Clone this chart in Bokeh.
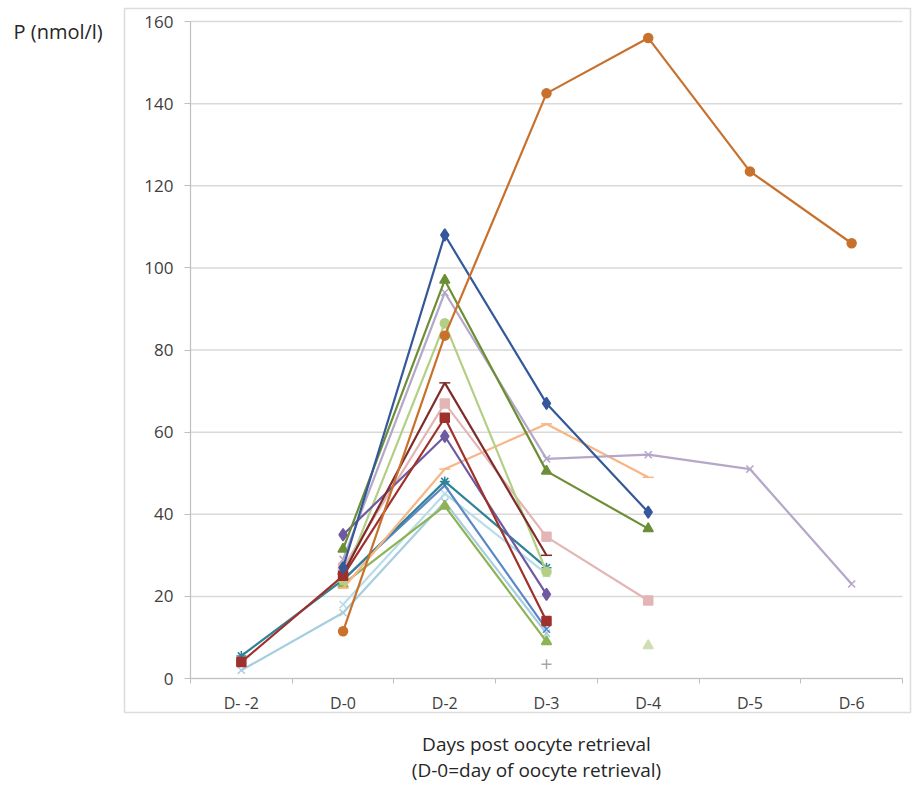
from bokeh.plotting import figure
from bokeh.models import Range1d, FixedTicker, BoxAnnotation, Label, LinearAxis
from bokeh.embed import file_html
from bokeh.resources import INLINE

nan = float("nan")

days = ["D- -2", "D-0", "D-2", "D-3", "D-4", "D-5", "D-6"]
y_ticks = [0, 20, 40, 60, 80, 100, 120, 140, 160]

# values per day (D- -2, D-0, D-2, D-3, D-4, D-5, D-6)
p_dark_blue   = [nan, 27.0, 108.0, 67.0, 40.5, nan, nan]
p_dark_red    = [4.0, 25.0, 63.5, 14.0, nan, nan, nan]
p_olive       = [nan, 31.5, 97.0, 50.5, 36.5, nan, nan]
p_purple      = [nan, 35.0, 59.0, 20.5, nan, nan, nan]
p_teal        = [5.5, 24.0, 48.0, 27.0, nan, nan, nan]
p_orange      = [nan, 11.5, 83.5, 142.5, 156.0, 123.5, 106.0]
p_lavender    = [nan, 29.0, 94.0, 53.5, 54.5, 51.0, 23.0]
p_light_green = [nan, 24.0, 86.5, 26.0, nan, nan, nan]
p_maroon      = [nan, 25.5, 72.0, 30.0, nan, nan, nan]
p_pink        = [nan, 27.0, 67.0, 34.5, 19.0, nan, nan]
p_peach       = [nan, 22.0, 51.0, 62.0, 49.0, nan, nan]
p_blue        = [nan, 24.0, 47.0, 12.0, nan, nan, nan]
p_light_blue  = [2.0, 16.0, 43.0, 11.0, nan, nan, nan]
p_green       = [nan, 23.0, 42.0, 9.0, nan, nan, nan]
p_pale_teal   = [nan, 18.0, 45.0, 25.5, nan, nan, nan]
p_grey        = [nan, nan, nan, 3.5, nan, nan, nan]
p_pale_olive  = [nan, nan, nan, nan, 8.0, nan, nan]

series = [
    (p_pale_teal,   "#B7DEE8", "x"),
    (p_light_blue,  "#A6CDE0", "x"),
    (p_green,       "#8DB356", "triangle"),
    (p_blue,        "#5B87C6", "x"),
    (p_teal,        "#2F8297", "asterisk"),
    (p_peach,       "#F8B585", "dash"),
    (p_pink,        "#E3B5B5", "square"),
    (p_light_green, "#B3CF85", "circle"),
    (p_lavender,    "#B4A7C8", "x"),
    (p_purple,      "#6E5AA0", "diamond"),
    (p_maroon,      "#7E2B2A", "dash"),
    (p_dark_red,    "#A0302C", "square"),
    (p_olive,       "#6C8E34", "triangle"),
    (p_dark_blue,   "#34589A", "diamond"),
    (p_orange,      "#C8712D", "circle"),
    (p_grey,        "#A6A6A6", "cross"),
    (p_pale_olive,  "#D0DDB0", "triangle"),
]

marker_sizes = {"dash": 11, "x": 10, "cross": 10, "asterisk": 10,
                "diamond": 12, "triangle": 10, "square": 9, "circle": 9}

# ---- pixel geometry of the page (layout only) ----
W, H = 912, 785
PX_X0, PX_X1 = 190, 902      # left / right end of the category axis
PX_Y0, PX_YTOP = 678, 21     # pixel rows of y=0 and y=160
n_cat = len(days)
y_max = y_ticks[-1]

def dx(px):
    return (px - PX_X0) / ((PX_X1 - PX_X0) / n_cat)

def dy(py):
    return (PX_Y0 - py) / ((PX_Y0 - PX_YTOP) / y_max)

xs = [i + 0.5 for i in range(n_cat)]

p = figure(width=W, height=H, output_backend="svg", toolbar_location=None,
           x_range=Range1d(dx(0), dx(W)), y_range=Range1d(dy(H), dy(0)),
           x_axis_type=None, y_axis_type=None, min_border=0)
p.outline_line_color = None
p.background_fill_color = "white"
p.border_fill_color = "white"

font = "Open Sans"

# horizontal gridlines
p.segment(x0=[0] * len(y_ticks), x1=[n_cat] * len(y_ticks), y0=y_ticks, y1=y_ticks,
          line_color="#D9D9D9", line_width=1.5)

yaxis = LinearAxis(fixed_location=0, bounds=(0, y_max), ticker=FixedTicker(ticks=y_ticks))
yaxis.axis_line_color = "#BFBFBF"
yaxis.axis_line_width = 1.2
yaxis.major_tick_line_color = "#BFBFBF"
yaxis.major_tick_out = 6
yaxis.major_tick_in = 0
yaxis.minor_tick_line_color = None
yaxis.major_label_text_font = font
yaxis.major_label_text_font_size = "17px"
yaxis.major_label_text_color = "#404040"
yaxis.major_label_standoff = 11
p.add_layout(yaxis, "left")

xaxis = LinearAxis(fixed_location=0, bounds=(0, n_cat),
                   ticker=FixedTicker(ticks=xs, minor_ticks=list(range(n_cat + 1))))
xaxis.major_label_overrides = {x: d for x, d in zip(xs, days)}
xaxis.axis_line_color = "#BFBFBF"
xaxis.axis_line_width = 1.2
xaxis.major_tick_line_color = None
xaxis.major_tick_out = 0
xaxis.major_tick_in = 0
xaxis.minor_tick_line_color = "#BFBFBF"
xaxis.minor_tick_out = 5
xaxis.minor_tick_in = 0
xaxis.major_label_text_font = font
xaxis.major_label_text_font_size = "16px"
xaxis.major_label_text_color = "#404040"
xaxis.major_label_standoff = 8
p.add_layout(xaxis, "below")

for vals, col, mk in series:
    p.line(xs, vals, line_color=col, line_width=2.2)
    p.scatter(xs, vals, marker=mk, size=marker_sizes[mk], fill_color=col,
              line_color=col, line_width=1.5)

# chart border
frame_box = BoxAnnotation(left=dx(124), right=dx(910), top=dy(8), bottom=dy(712),
                          fill_color=None, line_color="#8C8C8C", line_width=1.5)
p.add_layout(frame_box)

ylab = Label(x=dx(13), y=dy(31), text="P (nmol/l)",
             text_font=font, text_font_size="20px", text_color="#262626",
             text_baseline="middle", text_align="left")
p.add_layout(ylab)

xlab1 = Label(x=dx(536), y=dy(743), text="Days post oocyte retrieval",
              text_font=font, text_font_size="19px", text_color="#262626",
              text_baseline="middle", text_align="center")
xlab2 = Label(x=dx(536), y=dy(769), text="(D-0=day of oocyte retrieval)",
              text_font=font, text_font_size="19px", text_color="#262626",
              text_baseline="middle", text_align="center")
p.add_layout(xlab1)
p.add_layout(xlab2)

open("out.html", "w").write(file_html(p, INLINE))
